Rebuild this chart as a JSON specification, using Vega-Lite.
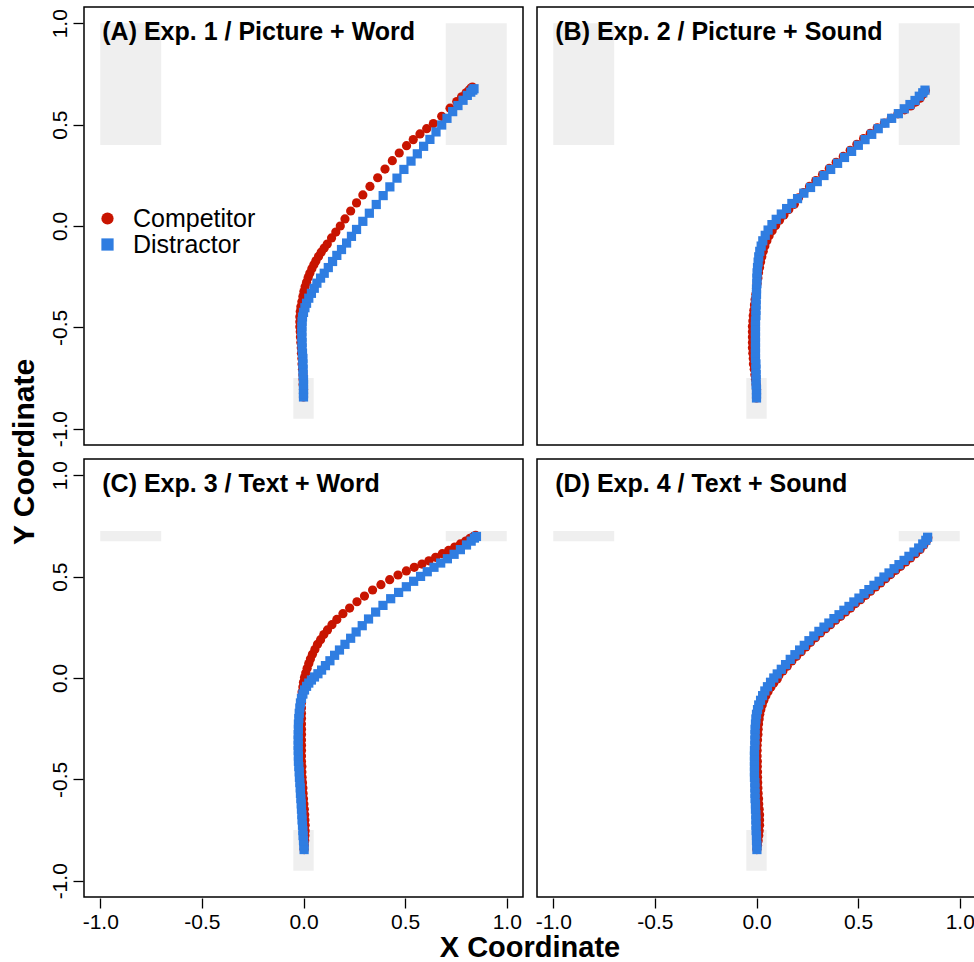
{
"$schema": "https://vega.github.io/schema/vega-lite/v6.json",
"background": "white",
"padding": {"left": 9, "top": 6, "right": 0, "bottom": 0},
"data": {"values": [
{"p":"A","k":"b","x":-1,"x2":-0.7,"y":0.4,"y2":1},{"p":"A","k":"b","x":0.7,"x2":1,"y":0.4,"y2":1},{"p":"A","k":"b","x":-0.05,"x2":0.05,"y":-0.95,"y2":-0.75},
{"p":"B","k":"b","x":-1,"x2":-0.7,"y":0.4,"y2":1},{"p":"B","k":"b","x":0.7,"x2":1,"y":0.4,"y2":1},{"p":"B","k":"b","x":-0.05,"x2":0.05,"y":-0.95,"y2":-0.75},
{"p":"C","k":"b","x":-1,"x2":-0.7,"y":0.675,"y2":0.725},{"p":"C","k":"b","x":0.7,"x2":1,"y":0.675,"y2":0.725},{"p":"C","k":"b","x":-0.05,"x2":0.05,"y":-0.95,"y2":-0.75},
{"p":"D","k":"b","x":-1,"x2":-0.7,"y":0.675,"y2":0.725},{"p":"D","k":"b","x":0.7,"x2":1,"y":0.675,"y2":0.725},{"p":"D","k":"b","x":-0.05,"x2":0.05,"y":-0.95,"y2":-0.75},
{"p":"A","k":"t","label":"(A) Exp. 1 / Picture + Word","x":-0.99,"y":0.915},
{"p":"B","k":"t","label":"(B) Exp. 2 / Picture + Sound","x":-0.99,"y":0.915},
{"p":"C","k":"t","label":"(C) Exp. 3 / Text + Word","x":-0.99,"y":0.915},
{"p":"D","k":"t","label":"(D) Exp. 4 / Text + Sound","x":-0.99,"y":0.915},
{"p":"A","s":"Competitor","x":0,"y":-0.843},{"p":"A","s":"Competitor","x":0,"y":-0.827},{"p":"A","s":"Competitor","x":0,"y":-0.805},{"p":"A","s":"Competitor","x":-0.002,"y":-0.782},{"p":"A","s":"Competitor","x":-0.002,"y":-0.757},{"p":"A","s":"Competitor","x":-0.003,"y":-0.733},{"p":"A","s":"Competitor","x":-0.005,"y":-0.706},{"p":"A","s":"Competitor","x":-0.007,"y":-0.68},{"p":"A","s":"Competitor","x":-0.008,"y":-0.653},{"p":"A","s":"Competitor","x":-0.01,"y":-0.627},{"p":"A","s":"Competitor","x":-0.011,"y":-0.601},{"p":"A","s":"Competitor","x":-0.013,"y":-0.574},{"p":"A","s":"Competitor","x":-0.015,"y":-0.548},{"p":"A","s":"Competitor","x":-0.016,"y":-0.521},{"p":"A","s":"Competitor","x":-0.018,"y":-0.497},{"p":"A","s":"Competitor","x":-0.018,"y":-0.472},{"p":"A","s":"Competitor","x":-0.018,"y":-0.447},{"p":"A","s":"Competitor","x":-0.016,"y":-0.422},{"p":"A","s":"Competitor","x":-0.013,"y":-0.398},{"p":"A","s":"Competitor","x":-0.008,"y":-0.373},{"p":"A","s":"Competitor","x":-0.003,"y":-0.348},{"p":"A","s":"Competitor","x":0.002,"y":-0.323},{"p":"A","s":"Competitor","x":0.008,"y":-0.3},{"p":"A","s":"Competitor","x":0.015,"y":-0.277},{"p":"A","s":"Competitor","x":0.023,"y":-0.254},{"p":"A","s":"Competitor","x":0.031,"y":-0.233},{"p":"A","s":"Competitor","x":0.041,"y":-0.211},{"p":"A","s":"Competitor","x":0.051,"y":-0.191},{"p":"A","s":"Competitor","x":0.061,"y":-0.172},{"p":"A","s":"Competitor","x":0.074,"y":-0.15},{"p":"A","s":"Competitor","x":0.087,"y":-0.129},{"p":"A","s":"Competitor","x":0.102,"y":-0.109},{"p":"A","s":"Competitor","x":0.117,"y":-0.089},{"p":"A","s":"Competitor","x":0.138,"y":-0.059},{"p":"A","s":"Competitor","x":0.159,"y":-0.03},{"p":"A","s":"Competitor","x":0.181,"y":0},{"p":"A","s":"Competitor","x":0.204,"y":0.035},{"p":"A","s":"Competitor","x":0.232,"y":0.074},{"p":"A","s":"Competitor","x":0.261,"y":0.114},{"p":"A","s":"Competitor","x":0.292,"y":0.153},{"p":"A","s":"Competitor","x":0.327,"y":0.195},{"p":"A","s":"Competitor","x":0.365,"y":0.238},{"p":"A","s":"Competitor","x":0.401,"y":0.281},{"p":"A","s":"Competitor","x":0.437,"y":0.322},{"p":"A","s":"Competitor","x":0.471,"y":0.36},{"p":"A","s":"Competitor","x":0.507,"y":0.396},{"p":"A","s":"Competitor","x":0.54,"y":0.426},{"p":"A","s":"Competitor","x":0.573,"y":0.454},{"p":"A","s":"Competitor","x":0.606,"y":0.48},{"p":"A","s":"Competitor","x":0.639,"y":0.505},{"p":"A","s":"Competitor","x":0.68,"y":0.541},{"p":"A","s":"Competitor","x":0.721,"y":0.581},{"p":"A","s":"Competitor","x":0.754,"y":0.614},{"p":"A","s":"Competitor","x":0.778,"y":0.637},{"p":"A","s":"Competitor","x":0.8,"y":0.657},{"p":"A","s":"Competitor","x":0.814,"y":0.67},{"p":"A","s":"Competitor","x":0.824,"y":0.68},{"p":"A","s":"Competitor","x":0.831,"y":0.685},
{"p":"A","s":"Distractor","x":0,"y":-0.843},{"p":"A","s":"Distractor","x":0,"y":-0.827},{"p":"A","s":"Distractor","x":0,"y":-0.805},{"p":"A","s":"Distractor","x":0,"y":-0.782},{"p":"A","s":"Distractor","x":0,"y":-0.757},{"p":"A","s":"Distractor","x":-0.002,"y":-0.733},{"p":"A","s":"Distractor","x":-0.002,"y":-0.706},{"p":"A","s":"Distractor","x":-0.003,"y":-0.68},{"p":"A","s":"Distractor","x":-0.003,"y":-0.653},{"p":"A","s":"Distractor","x":-0.005,"y":-0.627},{"p":"A","s":"Distractor","x":-0.007,"y":-0.601},{"p":"A","s":"Distractor","x":-0.007,"y":-0.574},{"p":"A","s":"Distractor","x":-0.008,"y":-0.548},{"p":"A","s":"Distractor","x":-0.008,"y":-0.521},{"p":"A","s":"Distractor","x":-0.008,"y":-0.497},{"p":"A","s":"Distractor","x":-0.007,"y":-0.472},{"p":"A","s":"Distractor","x":-0.005,"y":-0.449},{"p":"A","s":"Distractor","x":0,"y":-0.426},{"p":"A","s":"Distractor","x":0.007,"y":-0.403},{"p":"A","s":"Distractor","x":0.015,"y":-0.381},{"p":"A","s":"Distractor","x":0.026,"y":-0.356},{"p":"A","s":"Distractor","x":0.039,"y":-0.332},{"p":"A","s":"Distractor","x":0.053,"y":-0.307},{"p":"A","s":"Distractor","x":0.066,"y":-0.282},{"p":"A","s":"Distractor","x":0.084,"y":-0.257},{"p":"A","s":"Distractor","x":0.102,"y":-0.233},{"p":"A","s":"Distractor","x":0.122,"y":-0.205},{"p":"A","s":"Distractor","x":0.143,"y":-0.175},{"p":"A","s":"Distractor","x":0.164,"y":-0.145},{"p":"A","s":"Distractor","x":0.187,"y":-0.116},{"p":"A","s":"Distractor","x":0.212,"y":-0.084},{"p":"A","s":"Distractor","x":0.236,"y":-0.051},{"p":"A","s":"Distractor","x":0.261,"y":-0.017},{"p":"A","s":"Distractor","x":0.292,"y":0.023},{"p":"A","s":"Distractor","x":0.324,"y":0.063},{"p":"A","s":"Distractor","x":0.358,"y":0.106},{"p":"A","s":"Distractor","x":0.392,"y":0.15},{"p":"A","s":"Distractor","x":0.425,"y":0.193},{"p":"A","s":"Distractor","x":0.46,"y":0.236},{"p":"A","s":"Distractor","x":0.494,"y":0.279},{"p":"A","s":"Distractor","x":0.529,"y":0.32},{"p":"A","s":"Distractor","x":0.56,"y":0.356},{"p":"A","s":"Distractor","x":0.591,"y":0.393},{"p":"A","s":"Distractor","x":0.622,"y":0.427},{"p":"A","s":"Distractor","x":0.652,"y":0.464},{"p":"A","s":"Distractor","x":0.68,"y":0.498},{"p":"A","s":"Distractor","x":0.706,"y":0.531},{"p":"A","s":"Distractor","x":0.734,"y":0.564},{"p":"A","s":"Distractor","x":0.76,"y":0.594},{"p":"A","s":"Distractor","x":0.785,"y":0.62},{"p":"A","s":"Distractor","x":0.806,"y":0.644},{"p":"A","s":"Distractor","x":0.823,"y":0.66},{"p":"A","s":"Distractor","x":0.833,"y":0.67},{"p":"A","s":"Distractor","x":0.839,"y":0.677},
{"p":"B","s":"Competitor","x":0,"y":-0.848},{"p":"B","s":"Competitor","x":0,"y":-0.828},{"p":"B","s":"Competitor","x":0,"y":-0.805},{"p":"B","s":"Competitor","x":-0.002,"y":-0.782},{"p":"B","s":"Competitor","x":-0.005,"y":-0.757},{"p":"B","s":"Competitor","x":-0.008,"y":-0.733},{"p":"B","s":"Competitor","x":-0.011,"y":-0.706},{"p":"B","s":"Competitor","x":-0.015,"y":-0.68},{"p":"B","s":"Competitor","x":-0.016,"y":-0.653},{"p":"B","s":"Competitor","x":-0.018,"y":-0.627},{"p":"B","s":"Competitor","x":-0.02,"y":-0.601},{"p":"B","s":"Competitor","x":-0.02,"y":-0.574},{"p":"B","s":"Competitor","x":-0.02,"y":-0.548},{"p":"B","s":"Competitor","x":-0.02,"y":-0.521},{"p":"B","s":"Competitor","x":-0.02,"y":-0.495},{"p":"B","s":"Competitor","x":-0.018,"y":-0.469},{"p":"B","s":"Competitor","x":-0.016,"y":-0.442},{"p":"B","s":"Competitor","x":-0.013,"y":-0.416},{"p":"B","s":"Competitor","x":-0.01,"y":-0.389},{"p":"B","s":"Competitor","x":-0.007,"y":-0.363},{"p":"B","s":"Competitor","x":-0.003,"y":-0.337},{"p":"B","s":"Competitor","x":0,"y":-0.31},{"p":"B","s":"Competitor","x":0.003,"y":-0.284},{"p":"B","s":"Competitor","x":0.007,"y":-0.257},{"p":"B","s":"Competitor","x":0.01,"y":-0.231},{"p":"B","s":"Competitor","x":0.015,"y":-0.205},{"p":"B","s":"Competitor","x":0.02,"y":-0.178},{"p":"B","s":"Competitor","x":0.026,"y":-0.152},{"p":"B","s":"Competitor","x":0.033,"y":-0.125},{"p":"B","s":"Competitor","x":0.041,"y":-0.099},{"p":"B","s":"Competitor","x":0.051,"y":-0.073},{"p":"B","s":"Competitor","x":0.062,"y":-0.048},{"p":"B","s":"Competitor","x":0.077,"y":-0.023},{"p":"B","s":"Competitor","x":0.094,"y":0.002},{"p":"B","s":"Competitor","x":0.113,"y":0.028},{"p":"B","s":"Competitor","x":0.135,"y":0.054},{"p":"B","s":"Competitor","x":0.159,"y":0.081},{"p":"B","s":"Competitor","x":0.186,"y":0.107},{"p":"B","s":"Competitor","x":0.207,"y":0.139},{"p":"B","s":"Competitor","x":0.232,"y":0.165},{"p":"B","s":"Competitor","x":0.261,"y":0.195},{"p":"B","s":"Competitor","x":0.292,"y":0.224},{"p":"B","s":"Competitor","x":0.325,"y":0.254},{"p":"B","s":"Competitor","x":0.358,"y":0.284},{"p":"B","s":"Competitor","x":0.392,"y":0.314},{"p":"B","s":"Competitor","x":0.427,"y":0.343},{"p":"B","s":"Competitor","x":0.461,"y":0.373},{"p":"B","s":"Competitor","x":0.494,"y":0.403},{"p":"B","s":"Competitor","x":0.527,"y":0.431},{"p":"B","s":"Competitor","x":0.56,"y":0.457},{"p":"B","s":"Competitor","x":0.594,"y":0.484},{"p":"B","s":"Competitor","x":0.629,"y":0.508},{"p":"B","s":"Competitor","x":0.663,"y":0.531},{"p":"B","s":"Competitor","x":0.696,"y":0.553},{"p":"B","s":"Competitor","x":0.729,"y":0.573},{"p":"B","s":"Competitor","x":0.759,"y":0.592},{"p":"B","s":"Competitor","x":0.783,"y":0.611},{"p":"B","s":"Competitor","x":0.805,"y":0.63},{"p":"B","s":"Competitor","x":0.819,"y":0.65},{"p":"B","s":"Competitor","x":0.831,"y":0.668},
{"p":"B","s":"Distractor","x":0,"y":-0.848},{"p":"B","s":"Distractor","x":0,"y":-0.828},{"p":"B","s":"Distractor","x":0,"y":-0.805},{"p":"B","s":"Distractor","x":-0.002,"y":-0.782},{"p":"B","s":"Distractor","x":-0.002,"y":-0.757},{"p":"B","s":"Distractor","x":-0.002,"y":-0.733},{"p":"B","s":"Distractor","x":-0.003,"y":-0.706},{"p":"B","s":"Distractor","x":-0.003,"y":-0.68},{"p":"B","s":"Distractor","x":-0.005,"y":-0.653},{"p":"B","s":"Distractor","x":-0.005,"y":-0.627},{"p":"B","s":"Distractor","x":-0.005,"y":-0.601},{"p":"B","s":"Distractor","x":-0.005,"y":-0.574},{"p":"B","s":"Distractor","x":-0.005,"y":-0.548},{"p":"B","s":"Distractor","x":-0.005,"y":-0.521},{"p":"B","s":"Distractor","x":-0.005,"y":-0.495},{"p":"B","s":"Distractor","x":-0.005,"y":-0.469},{"p":"B","s":"Distractor","x":-0.003,"y":-0.442},{"p":"B","s":"Distractor","x":-0.003,"y":-0.416},{"p":"B","s":"Distractor","x":-0.002,"y":-0.389},{"p":"B","s":"Distractor","x":-0.002,"y":-0.363},{"p":"B","s":"Distractor","x":0,"y":-0.337},{"p":"B","s":"Distractor","x":0,"y":-0.31},{"p":"B","s":"Distractor","x":0.002,"y":-0.284},{"p":"B","s":"Distractor","x":0.002,"y":-0.257},{"p":"B","s":"Distractor","x":0.003,"y":-0.231},{"p":"B","s":"Distractor","x":0.005,"y":-0.205},{"p":"B","s":"Distractor","x":0.008,"y":-0.178},{"p":"B","s":"Distractor","x":0.011,"y":-0.152},{"p":"B","s":"Distractor","x":0.016,"y":-0.125},{"p":"B","s":"Distractor","x":0.023,"y":-0.099},{"p":"B","s":"Distractor","x":0.031,"y":-0.073},{"p":"B","s":"Distractor","x":0.043,"y":-0.046},{"p":"B","s":"Distractor","x":0.057,"y":-0.02},{"p":"B","s":"Distractor","x":0.076,"y":0.007},{"p":"B","s":"Distractor","x":0.097,"y":0.033},{"p":"B","s":"Distractor","x":0.122,"y":0.059},{"p":"B","s":"Distractor","x":0.148,"y":0.086},{"p":"B","s":"Distractor","x":0.174,"y":0.111},{"p":"B","s":"Distractor","x":0.202,"y":0.135},{"p":"B","s":"Distractor","x":0.233,"y":0.162},{"p":"B","s":"Distractor","x":0.266,"y":0.19},{"p":"B","s":"Distractor","x":0.299,"y":0.219},{"p":"B","s":"Distractor","x":0.332,"y":0.249},{"p":"B","s":"Distractor","x":0.365,"y":0.279},{"p":"B","s":"Distractor","x":0.399,"y":0.309},{"p":"B","s":"Distractor","x":0.433,"y":0.338},{"p":"B","s":"Distractor","x":0.468,"y":0.368},{"p":"B","s":"Distractor","x":0.501,"y":0.398},{"p":"B","s":"Distractor","x":0.534,"y":0.426},{"p":"B","s":"Distractor","x":0.567,"y":0.452},{"p":"B","s":"Distractor","x":0.599,"y":0.48},{"p":"B","s":"Distractor","x":0.632,"y":0.507},{"p":"B","s":"Distractor","x":0.665,"y":0.531},{"p":"B","s":"Distractor","x":0.698,"y":0.554},{"p":"B","s":"Distractor","x":0.727,"y":0.578},{"p":"B","s":"Distractor","x":0.755,"y":0.599},{"p":"B","s":"Distractor","x":0.78,"y":0.619},{"p":"B","s":"Distractor","x":0.801,"y":0.64},{"p":"B","s":"Distractor","x":0.818,"y":0.657},{"p":"B","s":"Distractor","x":0.829,"y":0.67},
{"p":"C","s":"Competitor","x":0.003,"y":-0.846},{"p":"C","s":"Competitor","x":0.004,"y":-0.825},{"p":"C","s":"Competitor","x":0.006,"y":-0.802},{"p":"C","s":"Competitor","x":0.007,"y":-0.777},{"p":"C","s":"Competitor","x":0.008,"y":-0.753},{"p":"C","s":"Competitor","x":0.008,"y":-0.726},{"p":"C","s":"Competitor","x":0.007,"y":-0.7},{"p":"C","s":"Competitor","x":0.006,"y":-0.674},{"p":"C","s":"Competitor","x":0.004,"y":-0.647},{"p":"C","s":"Competitor","x":0.002,"y":-0.621},{"p":"C","s":"Competitor","x":0,"y":-0.595},{"p":"C","s":"Competitor","x":-0.002,"y":-0.569},{"p":"C","s":"Competitor","x":-0.003,"y":-0.542},{"p":"C","s":"Competitor","x":-0.005,"y":-0.516},{"p":"C","s":"Competitor","x":-0.007,"y":-0.49},{"p":"C","s":"Competitor","x":-0.008,"y":-0.463},{"p":"C","s":"Competitor","x":-0.008,"y":-0.437},{"p":"C","s":"Competitor","x":-0.01,"y":-0.411},{"p":"C","s":"Competitor","x":-0.01,"y":-0.385},{"p":"C","s":"Competitor","x":-0.01,"y":-0.358},{"p":"C","s":"Competitor","x":-0.01,"y":-0.332},{"p":"C","s":"Competitor","x":-0.01,"y":-0.306},{"p":"C","s":"Competitor","x":-0.01,"y":-0.279},{"p":"C","s":"Competitor","x":-0.01,"y":-0.253},{"p":"C","s":"Competitor","x":-0.01,"y":-0.227},{"p":"C","s":"Competitor","x":-0.01,"y":-0.2},{"p":"C","s":"Competitor","x":-0.01,"y":-0.174},{"p":"C","s":"Competitor","x":-0.01,"y":-0.148},{"p":"C","s":"Competitor","x":-0.01,"y":-0.122},{"p":"C","s":"Competitor","x":-0.008,"y":-0.095},{"p":"C","s":"Competitor","x":-0.007,"y":-0.069},{"p":"C","s":"Competitor","x":-0.003,"y":-0.044},{"p":"C","s":"Competitor","x":0,"y":-0.021},{"p":"C","s":"Competitor","x":0.005,"y":0.002},{"p":"C","s":"Competitor","x":0.011,"y":0.025},{"p":"C","s":"Competitor","x":0.018,"y":0.048},{"p":"C","s":"Competitor","x":0.026,"y":0.071},{"p":"C","s":"Competitor","x":0.034,"y":0.094},{"p":"C","s":"Competitor","x":0.044,"y":0.117},{"p":"C","s":"Competitor","x":0.056,"y":0.141},{"p":"C","s":"Competitor","x":0.069,"y":0.166},{"p":"C","s":"Competitor","x":0.084,"y":0.189},{"p":"C","s":"Competitor","x":0.1,"y":0.214},{"p":"C","s":"Competitor","x":0.118,"y":0.237},{"p":"C","s":"Competitor","x":0.14,"y":0.263},{"p":"C","s":"Competitor","x":0.164,"y":0.289},{"p":"C","s":"Competitor","x":0.194,"y":0.317},{"p":"C","s":"Competitor","x":0.227,"y":0.345},{"p":"C","s":"Competitor","x":0.263,"y":0.376},{"p":"C","s":"Competitor","x":0.3,"y":0.404},{"p":"C","s":"Competitor","x":0.34,"y":0.434},{"p":"C","s":"Competitor","x":0.381,"y":0.46},{"p":"C","s":"Competitor","x":0.424,"y":0.485},{"p":"C","s":"Competitor","x":0.465,"y":0.508},{"p":"C","s":"Competitor","x":0.506,"y":0.528},{"p":"C","s":"Competitor","x":0.545,"y":0.546},{"p":"C","s":"Competitor","x":0.583,"y":0.562},{"p":"C","s":"Competitor","x":0.617,"y":0.578},{"p":"C","s":"Competitor","x":0.65,"y":0.595},{"p":"C","s":"Competitor","x":0.683,"y":0.613},{"p":"C","s":"Competitor","x":0.714,"y":0.629},{"p":"C","s":"Competitor","x":0.744,"y":0.646},{"p":"C","s":"Competitor","x":0.772,"y":0.661},{"p":"C","s":"Competitor","x":0.798,"y":0.675},{"p":"C","s":"Competitor","x":0.819,"y":0.689},{"p":"C","s":"Competitor","x":0.837,"y":0.698},{"p":"C","s":"Competitor","x":0.847,"y":0.703},
{"p":"C","s":"Distractor","x":0.003,"y":-0.846},{"p":"C","s":"Distractor","x":0.002,"y":-0.825},{"p":"C","s":"Distractor","x":0,"y":-0.802},{"p":"C","s":"Distractor","x":-0.002,"y":-0.777},{"p":"C","s":"Distractor","x":-0.003,"y":-0.753},{"p":"C","s":"Distractor","x":-0.005,"y":-0.726},{"p":"C","s":"Distractor","x":-0.007,"y":-0.7},{"p":"C","s":"Distractor","x":-0.008,"y":-0.674},{"p":"C","s":"Distractor","x":-0.01,"y":-0.647},{"p":"C","s":"Distractor","x":-0.011,"y":-0.621},{"p":"C","s":"Distractor","x":-0.013,"y":-0.595},{"p":"C","s":"Distractor","x":-0.015,"y":-0.569},{"p":"C","s":"Distractor","x":-0.016,"y":-0.542},{"p":"C","s":"Distractor","x":-0.018,"y":-0.516},{"p":"C","s":"Distractor","x":-0.02,"y":-0.49},{"p":"C","s":"Distractor","x":-0.021,"y":-0.463},{"p":"C","s":"Distractor","x":-0.023,"y":-0.437},{"p":"C","s":"Distractor","x":-0.025,"y":-0.411},{"p":"C","s":"Distractor","x":-0.025,"y":-0.385},{"p":"C","s":"Distractor","x":-0.026,"y":-0.358},{"p":"C","s":"Distractor","x":-0.026,"y":-0.332},{"p":"C","s":"Distractor","x":-0.026,"y":-0.306},{"p":"C","s":"Distractor","x":-0.026,"y":-0.279},{"p":"C","s":"Distractor","x":-0.025,"y":-0.253},{"p":"C","s":"Distractor","x":-0.025,"y":-0.227},{"p":"C","s":"Distractor","x":-0.023,"y":-0.2},{"p":"C","s":"Distractor","x":-0.021,"y":-0.174},{"p":"C","s":"Distractor","x":-0.018,"y":-0.148},{"p":"C","s":"Distractor","x":-0.015,"y":-0.123},{"p":"C","s":"Distractor","x":-0.01,"y":-0.1},{"p":"C","s":"Distractor","x":-0.003,"y":-0.079},{"p":"C","s":"Distractor","x":0.005,"y":-0.059},{"p":"C","s":"Distractor","x":0.015,"y":-0.041},{"p":"C","s":"Distractor","x":0.026,"y":-0.025},{"p":"C","s":"Distractor","x":0.039,"y":-0.01},{"p":"C","s":"Distractor","x":0.054,"y":0.005},{"p":"C","s":"Distractor","x":0.071,"y":0.021},{"p":"C","s":"Distractor","x":0.089,"y":0.039},{"p":"C","s":"Distractor","x":0.108,"y":0.061},{"p":"C","s":"Distractor","x":0.13,"y":0.085},{"p":"C","s":"Distractor","x":0.153,"y":0.112},{"p":"C","s":"Distractor","x":0.177,"y":0.138},{"p":"C","s":"Distractor","x":0.204,"y":0.166},{"p":"C","s":"Distractor","x":0.232,"y":0.196},{"p":"C","s":"Distractor","x":0.259,"y":0.227},{"p":"C","s":"Distractor","x":0.289,"y":0.258},{"p":"C","s":"Distractor","x":0.32,"y":0.291},{"p":"C","s":"Distractor","x":0.355,"y":0.325},{"p":"C","s":"Distractor","x":0.391,"y":0.358},{"p":"C","s":"Distractor","x":0.429,"y":0.391},{"p":"C","s":"Distractor","x":0.468,"y":0.422},{"p":"C","s":"Distractor","x":0.506,"y":0.45},{"p":"C","s":"Distractor","x":0.542,"y":0.477},{"p":"C","s":"Distractor","x":0.576,"y":0.501},{"p":"C","s":"Distractor","x":0.609,"y":0.524},{"p":"C","s":"Distractor","x":0.642,"y":0.546},{"p":"C","s":"Distractor","x":0.675,"y":0.567},{"p":"C","s":"Distractor","x":0.708,"y":0.588},{"p":"C","s":"Distractor","x":0.741,"y":0.61},{"p":"C","s":"Distractor","x":0.772,"y":0.633},{"p":"C","s":"Distractor","x":0.802,"y":0.656},{"p":"C","s":"Distractor","x":0.825,"y":0.675},{"p":"C","s":"Distractor","x":0.841,"y":0.69},{"p":"C","s":"Distractor","x":0.851,"y":0.698},
{"p":"D","s":"Competitor","x":0.002,"y":-0.846},{"p":"D","s":"Competitor","x":0.005,"y":-0.825},{"p":"D","s":"Competitor","x":0.008,"y":-0.802},{"p":"D","s":"Competitor","x":0.011,"y":-0.777},{"p":"D","s":"Competitor","x":0.013,"y":-0.753},{"p":"D","s":"Competitor","x":0.015,"y":-0.726},{"p":"D","s":"Competitor","x":0.015,"y":-0.7},{"p":"D","s":"Competitor","x":0.015,"y":-0.674},{"p":"D","s":"Competitor","x":0.013,"y":-0.647},{"p":"D","s":"Competitor","x":0.011,"y":-0.621},{"p":"D","s":"Competitor","x":0.01,"y":-0.595},{"p":"D","s":"Competitor","x":0.008,"y":-0.569},{"p":"D","s":"Competitor","x":0.007,"y":-0.542},{"p":"D","s":"Competitor","x":0.006,"y":-0.516},{"p":"D","s":"Competitor","x":0.005,"y":-0.49},{"p":"D","s":"Competitor","x":0.005,"y":-0.463},{"p":"D","s":"Competitor","x":0.004,"y":-0.437},{"p":"D","s":"Competitor","x":0.004,"y":-0.411},{"p":"D","s":"Competitor","x":0.003,"y":-0.385},{"p":"D","s":"Competitor","x":0.003,"y":-0.358},{"p":"D","s":"Competitor","x":0.003,"y":-0.332},{"p":"D","s":"Competitor","x":0.005,"y":-0.306},{"p":"D","s":"Competitor","x":0.007,"y":-0.279},{"p":"D","s":"Competitor","x":0.008,"y":-0.253},{"p":"D","s":"Competitor","x":0.01,"y":-0.227},{"p":"D","s":"Competitor","x":0.013,"y":-0.202},{"p":"D","s":"Competitor","x":0.016,"y":-0.179},{"p":"D","s":"Competitor","x":0.021,"y":-0.156},{"p":"D","s":"Competitor","x":0.028,"y":-0.133},{"p":"D","s":"Competitor","x":0.036,"y":-0.11},{"p":"D","s":"Competitor","x":0.046,"y":-0.087},{"p":"D","s":"Competitor","x":0.057,"y":-0.066},{"p":"D","s":"Competitor","x":0.071,"y":-0.044},{"p":"D","s":"Competitor","x":0.085,"y":-0.025},{"p":"D","s":"Competitor","x":0.102,"y":-0.005},{"p":"D","s":"Competitor","x":0.11,"y":0.012},{"p":"D","s":"Competitor","x":0.13,"y":0.035},{"p":"D","s":"Competitor","x":0.151,"y":0.058},{"p":"D","s":"Competitor","x":0.174,"y":0.084},{"p":"D","s":"Competitor","x":0.197,"y":0.107},{"p":"D","s":"Competitor","x":0.22,"y":0.13},{"p":"D","s":"Competitor","x":0.243,"y":0.153},{"p":"D","s":"Competitor","x":0.266,"y":0.176},{"p":"D","s":"Competitor","x":0.29,"y":0.199},{"p":"D","s":"Competitor","x":0.315,"y":0.222},{"p":"D","s":"Competitor","x":0.34,"y":0.243},{"p":"D","s":"Competitor","x":0.364,"y":0.263},{"p":"D","s":"Competitor","x":0.389,"y":0.285},{"p":"D","s":"Competitor","x":0.414,"y":0.304},{"p":"D","s":"Competitor","x":0.438,"y":0.326},{"p":"D","s":"Competitor","x":0.463,"y":0.345},{"p":"D","s":"Competitor","x":0.487,"y":0.367},{"p":"D","s":"Competitor","x":0.512,"y":0.386},{"p":"D","s":"Competitor","x":0.537,"y":0.408},{"p":"D","s":"Competitor","x":0.561,"y":0.428},{"p":"D","s":"Competitor","x":0.586,"y":0.449},{"p":"D","s":"Competitor","x":0.611,"y":0.469},{"p":"D","s":"Competitor","x":0.635,"y":0.49},{"p":"D","s":"Competitor","x":0.66,"y":0.51},{"p":"D","s":"Competitor","x":0.685,"y":0.531},{"p":"D","s":"Competitor","x":0.709,"y":0.551},{"p":"D","s":"Competitor","x":0.734,"y":0.572},{"p":"D","s":"Competitor","x":0.758,"y":0.592},{"p":"D","s":"Competitor","x":0.783,"y":0.613},{"p":"D","s":"Competitor","x":0.805,"y":0.634},{"p":"D","s":"Competitor","x":0.823,"y":0.656},{"p":"D","s":"Competitor","x":0.836,"y":0.676},{"p":"D","s":"Competitor","x":0.843,"y":0.692},
{"p":"D","s":"Distractor","x":0.002,"y":-0.846},{"p":"D","s":"Distractor","x":0.002,"y":-0.825},{"p":"D","s":"Distractor","x":0,"y":-0.802},{"p":"D","s":"Distractor","x":0,"y":-0.777},{"p":"D","s":"Distractor","x":-0.002,"y":-0.753},{"p":"D","s":"Distractor","x":-0.002,"y":-0.726},{"p":"D","s":"Distractor","x":-0.003,"y":-0.7},{"p":"D","s":"Distractor","x":-0.003,"y":-0.674},{"p":"D","s":"Distractor","x":-0.005,"y":-0.647},{"p":"D","s":"Distractor","x":-0.005,"y":-0.621},{"p":"D","s":"Distractor","x":-0.007,"y":-0.595},{"p":"D","s":"Distractor","x":-0.007,"y":-0.569},{"p":"D","s":"Distractor","x":-0.008,"y":-0.542},{"p":"D","s":"Distractor","x":-0.008,"y":-0.516},{"p":"D","s":"Distractor","x":-0.01,"y":-0.49},{"p":"D","s":"Distractor","x":-0.01,"y":-0.463},{"p":"D","s":"Distractor","x":-0.01,"y":-0.437},{"p":"D","s":"Distractor","x":-0.01,"y":-0.411},{"p":"D","s":"Distractor","x":-0.01,"y":-0.385},{"p":"D","s":"Distractor","x":-0.01,"y":-0.358},{"p":"D","s":"Distractor","x":-0.008,"y":-0.332},{"p":"D","s":"Distractor","x":-0.008,"y":-0.306},{"p":"D","s":"Distractor","x":-0.007,"y":-0.279},{"p":"D","s":"Distractor","x":-0.007,"y":-0.253},{"p":"D","s":"Distractor","x":-0.005,"y":-0.227},{"p":"D","s":"Distractor","x":-0.003,"y":-0.202},{"p":"D","s":"Distractor","x":0,"y":-0.179},{"p":"D","s":"Distractor","x":0.005,"y":-0.156},{"p":"D","s":"Distractor","x":0.011,"y":-0.133},{"p":"D","s":"Distractor","x":0.02,"y":-0.11},{"p":"D","s":"Distractor","x":0.03,"y":-0.087},{"p":"D","s":"Distractor","x":0.041,"y":-0.064},{"p":"D","s":"Distractor","x":0.054,"y":-0.043},{"p":"D","s":"Distractor","x":0.069,"y":-0.021},{"p":"D","s":"Distractor","x":0.085,"y":0},{"p":"D","s":"Distractor","x":0.102,"y":0.02},{"p":"D","s":"Distractor","x":0.122,"y":0.043},{"p":"D","s":"Distractor","x":0.143,"y":0.066},{"p":"D","s":"Distractor","x":0.166,"y":0.092},{"p":"D","s":"Distractor","x":0.189,"y":0.115},{"p":"D","s":"Distractor","x":0.212,"y":0.138},{"p":"D","s":"Distractor","x":0.235,"y":0.161},{"p":"D","s":"Distractor","x":0.258,"y":0.184},{"p":"D","s":"Distractor","x":0.282,"y":0.207},{"p":"D","s":"Distractor","x":0.307,"y":0.23},{"p":"D","s":"Distractor","x":0.332,"y":0.251},{"p":"D","s":"Distractor","x":0.356,"y":0.271},{"p":"D","s":"Distractor","x":0.381,"y":0.293},{"p":"D","s":"Distractor","x":0.406,"y":0.312},{"p":"D","s":"Distractor","x":0.43,"y":0.334},{"p":"D","s":"Distractor","x":0.455,"y":0.353},{"p":"D","s":"Distractor","x":0.479,"y":0.375},{"p":"D","s":"Distractor","x":0.504,"y":0.394},{"p":"D","s":"Distractor","x":0.529,"y":0.416},{"p":"D","s":"Distractor","x":0.553,"y":0.436},{"p":"D","s":"Distractor","x":0.578,"y":0.457},{"p":"D","s":"Distractor","x":0.603,"y":0.477},{"p":"D","s":"Distractor","x":0.627,"y":0.498},{"p":"D","s":"Distractor","x":0.652,"y":0.518},{"p":"D","s":"Distractor","x":0.677,"y":0.539},{"p":"D","s":"Distractor","x":0.701,"y":0.559},{"p":"D","s":"Distractor","x":0.726,"y":0.58},{"p":"D","s":"Distractor","x":0.75,"y":0.6},{"p":"D","s":"Distractor","x":0.775,"y":0.621},{"p":"D","s":"Distractor","x":0.798,"y":0.641},{"p":"D","s":"Distractor","x":0.818,"y":0.661},{"p":"D","s":"Distractor","x":0.833,"y":0.679},{"p":"D","s":"Distractor","x":0.842,"y":0.694}
]},
"transform": [
{"lookup": "p", "from": {"data": {"values": [{"p":"A","r":"top","c":"left"},{"p":"B","r":"top","c":"right"},{"p":"C","r":"bottom","c":"left"},{"p":"D","r":"bottom","c":"right"}]}, "key": "p", "fields": ["r","c"]}}
],
"facet": {
"row": {"field": "r", "type": "nominal", "sort": ["top","bottom"], "header": {"title": "Y Coordinate", "titleOrient": "left", "labels": false, "titleFont": "Liberation Sans", "titleFontSize": 30, "titleFontWeight": "bold", "titleColor": "black", "titlePadding": -2}},
"column": {"field": "c", "type": "nominal", "sort": ["left","right"], "header": {"title": "X Coordinate", "titleOrient": "bottom", "labelOrient": "bottom", "labels": false, "titleFont": "Liberation Sans", "titleFontSize": 29, "titleFontWeight": "bold", "titleColor": "black", "titlePadding": -8}}
},
"spacing": {"row": 12, "column": 12},
"spec": {
"width": 439,
"height": 438,
"layer": [
{"transform": [{"filter": "datum.k === 'b'"}],
 "mark": {"type": "rect", "color": "#efefef"},
 "encoding": {
  "x": {"field": "x", "type": "quantitative", "scale": {"domain": [-1.08, 1.08], "nice": false, "zero": false}, "axis": {"title": null, "values": [-1, -0.5, 0, 0.5, 1], "format": ".1f", "labelExpr": "replace(datum.label, '\u2212', '-')", "domain": false, "grid": false, "tickSize": 10, "tickWidth": 1.3, "tickColor": "black", "labelFont": "Liberation Sans", "labelFontSize": 21, "labelColor": "black", "labelPadding": 3, "labelFlush": false}},
  "x2": {"field": "x2"},
  "y": {"field": "y", "type": "quantitative", "scale": {"domain": [-1.08, 1.08], "nice": false, "zero": false}, "axis": {"title": null, "values": [-1, -0.5, 0, 0.5, 1], "format": ".1f", "labelExpr": "replace(datum.label, '\u2212', '-')", "domain": false, "grid": false, "tickSize": 10, "tickWidth": 1.3, "tickColor": "black", "labelFont": "Liberation Sans", "labelFontSize": 21, "labelColor": "black", "labelAngle": 270, "labelAlign": "center", "labelBaseline": "bottom", "labelPadding": 3, "labelFlush": false}},
  "y2": {"field": "y2"}
 }},
{"transform": [{"filter": "isValid(datum.s)"}],
 "mark": {"type": "point", "filled": true, "size": 85, "opacity": 1},
 "encoding": {
  "x": {"field": "x", "type": "quantitative"},
  "y": {"field": "y", "type": "quantitative"},
  "color": {"field": "s", "type": "nominal", "scale": {"domain": ["Competitor","Distractor"], "range": ["#c81400","#2f7de1"]}, "legend": {"title": null, "orient": "none", "legendX": 11, "legendY": 199}},
  "shape": {"field": "s", "type": "nominal", "scale": {"domain": ["Competitor","Distractor"], "range": ["circle","square"]}, "legend": {"title": null, "orient": "none", "legendX": 11, "legendY": 199}}
 }},
{"transform": [{"filter": "datum.k === 't'"}],
 "mark": {"type": "text", "align": "left", "baseline": "alphabetic", "font": "Liberation Sans", "fontSize": 25, "fontWeight": "bold", "color": "black"},
 "encoding": {
  "x": {"field": "x", "type": "quantitative"},
  "y": {"field": "y", "type": "quantitative"},
  "text": {"field": "label"}
 }}
]
},
"config": {
"view": {"stroke": "black", "strokeWidth": 1.5},
"legend": {"labelFont": "Liberation Sans", "labelFontSize": 25, "labelColor": "black", "symbolSize": 150, "symbolStrokeWidth": 0, "rowPadding": -8, "labelOffset": 13, "padding": 0}
}
}
